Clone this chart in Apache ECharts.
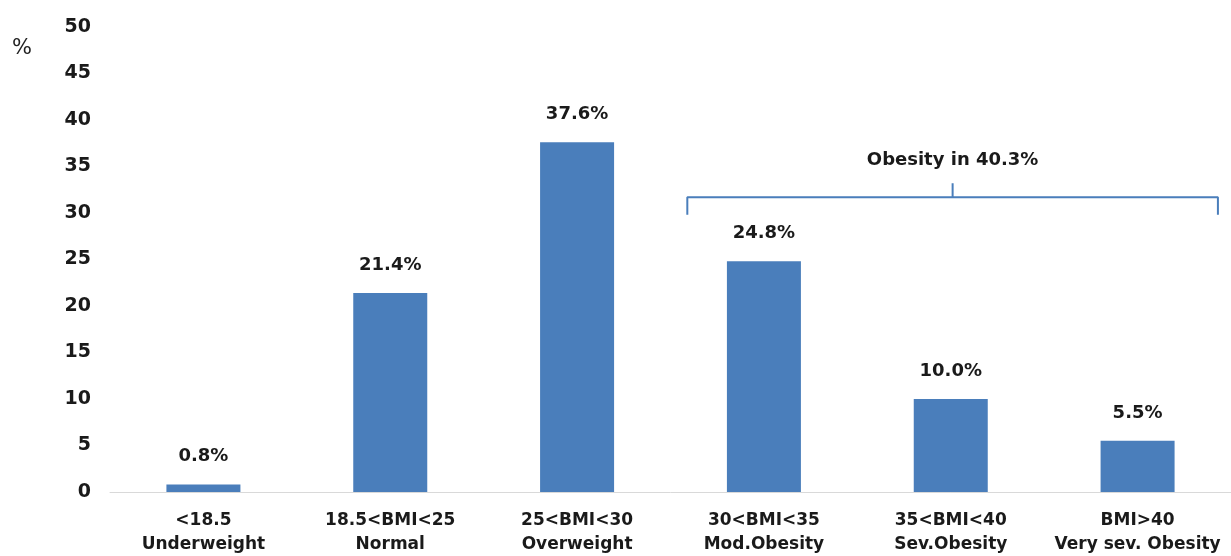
<!DOCTYPE html>
<html>
<head>
<meta charset="utf-8">
<script src="https://cdn.jsdelivr.net/npm/echarts@6/dist/echarts.min.js"></script>
<style>
  html, body { margin: 0; padding: 0; background: #ffffff; }
  #chart { width: 1231px; height: 556px; }
</style>
</head>
<body>
<div id="chart"></div>
<script>
// BMI classes and share of patients in each (%)
const categories = [
  '<18.5\nUnderweight',
  '18.5<BMI<25\nNormal',
  '25<BMI<30\nOverweight',
  '30<BMI<35\nMod.Obesity',
  '35<BMI<40\nSev.Obesity',
  'BMI>40\nVery sev. Obesity'
];
const shares = [0.8, 21.4, 37.6, 24.8, 10.0, 5.5];
const yTicks = [0, 5, 10, 15, 20, 25, 30, 35, 40, 45, 50];

// Obesity classes grouped by the bracket (indices into categories)
const obesityGroup = [3, 4, 5];
const obesityTotal = obesityGroup.reduce((s, i) => s + shares[i], 0);

// Bracket geometry in data units (x in category-index units, y in %)
const bracketSpan = [2.59, 5.43];
const bracketLevel = 31.7;
const bracketFoot = 29.8;
const bracketTickTop = 33.2;
const bracketMid = (bracketSpan[0] + bracketSpan[1]) / 2;

const FONT = 'DejaVu Sans';
const TEXT = '#1a1a1a';
const BLUE = '#4a7ebb';

const chart = echarts.init(document.getElementById('chart'), null, { renderer: 'canvas' });

chart.setOption({
  backgroundColor: '#ffffff',
  animation: false,
  grid: {
    left: 110, right: 0, top: 27, bottom: 64,
    containLabel: false,
    outerBoundsMode: 'none'
  },
  xAxis: [
    {
      type: 'category',
      data: categories,
      axisLine: { show: true, lineStyle: { color: '#d9d9d9', width: 1 } },
      axisTick: { show: false },
      axisLabel: {
        margin: 17,
        interval: 0,
        fontFamily: FONT,
        fontWeight: 'bold',
        fontSize: 17,
        lineHeight: 24,
        color: TEXT
      }
    },
    {
      // hidden linear axis spanning the same band, used to place the bracket
      type: 'value',
      min: -0.5,
      max: 5.5,
      show: false
    }
  ],
  yAxis: {
    type: 'value',
    min: yTicks[0],
    max: yTicks[yTicks.length - 1],
    interval: yTicks[1] - yTicks[0],
    axisLine: { show: false },
    axisTick: { show: false },
    splitLine: { show: false },
    axisLabel: {
      margin: 19,
      fontFamily: FONT,
      fontWeight: 'bold',
      fontSize: 19,
      color: TEXT
    }
  },
  graphic: [
    {
      type: 'text',
      left: 12,
      top: 38,
      style: {
        text: '%',
        fontFamily: FONT,
        fontSize: 21,
        fill: '#222222'
      }
    }
  ],
  series: [
    {
      type: 'bar',
      xAxisIndex: 0,
      data: shares,
      barWidth: 74,
      itemStyle: { color: BLUE },
      label: {
        show: true,
        position: 'top',
        distance: 19,
        formatter: p => p.value.toFixed(1) + '%',
        fontFamily: FONT,
        fontWeight: 'bold',
        fontSize: 18,
        color: TEXT
      }
    },
    {
      // bracket over the obesity classes
      type: 'line',
      xAxisIndex: 1,
      data: [
        [bracketSpan[0], bracketFoot],
        [bracketSpan[0], bracketLevel],
        [bracketSpan[1], bracketLevel],
        [bracketSpan[1], bracketFoot]
      ],
      symbol: 'none',
      lineStyle: { color: BLUE, width: 2 },
      silent: true
    },
    {
      // centre tick of the bracket
      type: 'line',
      xAxisIndex: 1,
      data: [
        [bracketMid, bracketLevel],
        [bracketMid, bracketTickTop]
      ],
      symbol: 'none',
      lineStyle: { color: BLUE, width: 2 },
      silent: true
    },
    {
      // bracket caption
      type: 'scatter',
      xAxisIndex: 1,
      data: [[bracketMid, bracketTickTop]],
      symbolSize: 0,
      silent: true,
      itemStyle: { opacity: 1 },
      label: {
        show: true,
        position: 'top',
        distance: 14,
        formatter: () => 'Obesity in ' + obesityTotal.toFixed(1) + '%',
        fontFamily: FONT,
        fontWeight: 'bold',
        fontSize: 18,
        color: TEXT,
        opacity: 1
      }
    }
  ]
});
</script>
</body>
</html>
